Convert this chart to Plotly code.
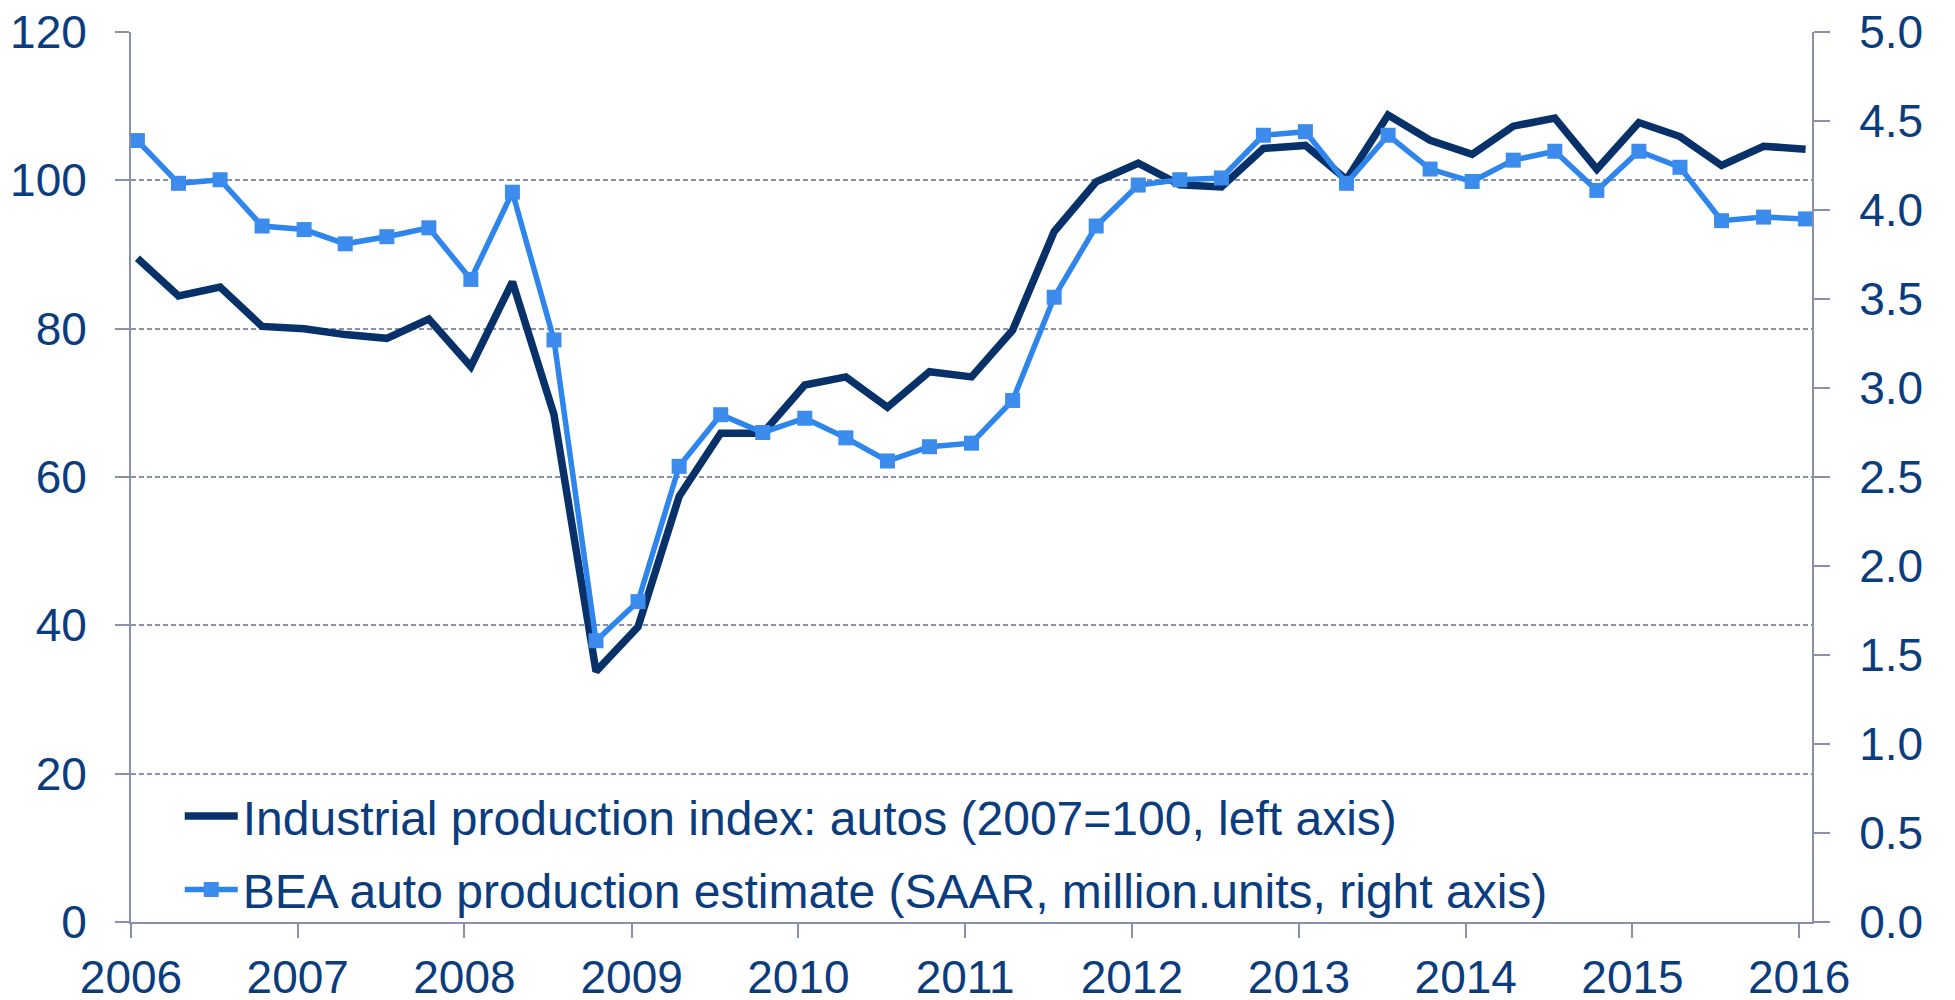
import pandas as pd
import plotly.graph_objects as go

# Quarterly observations, 2006Q1 .. 2016Q1 (plotted mid-first-month of each quarter)
quarters = pd.date_range("2006-01-01", periods=41, freq="QS") + pd.Timedelta(days=14)

# Industrial production index: autos (2007=100), left axis
ip_autos = [
    89.5, 84.4, 85.6, 80.3, 80.0, 79.2, 78.7, 81.3, 74.9, 86.3,
    68.4, 33.8, 39.8, 57.4, 65.9, 65.9, 72.4, 73.5, 69.4, 74.2,
    73.5, 79.8, 93.1, 99.8, 102.3, 99.4, 99.1, 104.3, 104.7, 100.1,
    108.8, 105.4, 103.5, 107.3, 108.4, 101.5, 107.8, 105.9, 102.0, 104.6,
    104.2,
]

# BEA auto production estimate (SAAR, million units), right axis
bea_autos = [
    4.39, 4.15, 4.17, 3.91, 3.89, 3.81, 3.85, 3.90, 3.61, 4.10,
    3.27, 1.58, 1.80, 2.56, 2.85, 2.75, 2.83, 2.72, 2.59, 2.67,
    2.69, 2.93, 3.51, 3.91, 4.14, 4.17, 4.18, 4.42, 4.44, 4.15,
    4.42, 4.23, 4.16, 4.28, 4.33, 4.11, 4.33, 4.24, 3.94, 3.96,
    3.95,
]

left_ticks = [0, 20, 40, 60, 80, 100, 120]
right_ticks = [0.0, 0.5, 1.0, 1.5, 2.0, 2.5, 3.0, 3.5, 4.0, 4.5, 5.0]

text_color = "#0B3C7D"
axis_color = "#8A8FAA"
dark_blue = "#08316A"
light_blue = "#2E85EC"
font_family = "Liberation Sans, Arial, sans-serif"

fig = go.Figure()

fig.add_trace(
    go.Scatter(
        x=quarters,
        y=ip_autos,
        mode="lines",
        name="Industrial production index: autos (2007=100, left axis)",
        line=dict(color=dark_blue, width=7.5),
        legendgroup="ip",
    )
)

fig.add_trace(
    go.Scatter(
        x=quarters,
        y=bea_autos,
        mode="lines+markers",
        name="BEA auto production estimate (SAAR, million.units, right axis)",
        line=dict(color=light_blue, width=5.5),
        marker=dict(symbol="square", size=15, color="#3B8CED"),
        yaxis="y2",
        legendgroup="bea",
    )
)

fig.update_layout(
    width=1955,
    height=1000,
    margin=dict(l=131, r=143, t=32, b=78),
    plot_bgcolor="white",
    paper_bgcolor="white",
    font=dict(family=font_family, size=46, color=text_color),
    showlegend=True,
    legend=dict(
        x=0.029,
        y=-0.006,
        xanchor="left",
        yanchor="bottom",
        bgcolor="rgba(0,0,0,0)",
        font=dict(size=48, color=text_color),
        traceorder="grouped",
        tracegroupgap=8,
        itemwidth=53,
    ),
    xaxis=dict(
        type="date",
        range=["2006-01-01", "2016-01-29"],
        tick0="2006-01-01",
        dtick="M12",
        tickformat="%Y",
        showgrid=False,
        showline=True,
        linecolor=axis_color,
        linewidth=2,
        ticks="outside",
        ticklen=14,
        tickwidth=2,
        tickcolor=axis_color,
        ticklabelstandoff=0,
        ticklabeloverflow="allow",
        zeroline=False,
        automargin=False,
    ),
    yaxis=dict(
        range=[0, 120],
        tickvals=left_ticks,
        showgrid=True,
        gridcolor=axis_color,
        gridwidth=2,
        griddash="5px,3px",
        showline=True,
        linecolor=axis_color,
        linewidth=2,
        ticks="outside",
        ticklen=14,
        tickwidth=2,
        tickcolor=axis_color,
        ticklabelstandoff=19,
        ticklabeloverflow="allow",
        zeroline=False,
        automargin=False,
    ),
    yaxis2=dict(
        range=[0, 5],
        tickvals=right_ticks,
        tickformat=".1f",
        overlaying="y",
        side="right",
        showgrid=False,
        showline=True,
        linecolor=axis_color,
        linewidth=2,
        ticks="outside",
        ticklen=16,
        tickwidth=2,
        tickcolor=axis_color,
        ticklabelstandoff=20,
        ticklabeloverflow="allow",
        zeroline=False,
        automargin=False,
    ),
)

# drop the default 8px body margin so the figure fills the window exactly
fig.write_html(
    "out.html",
    config={"displayModeBar": False},
    post_script="document.body.style.margin = '0px';",
)
